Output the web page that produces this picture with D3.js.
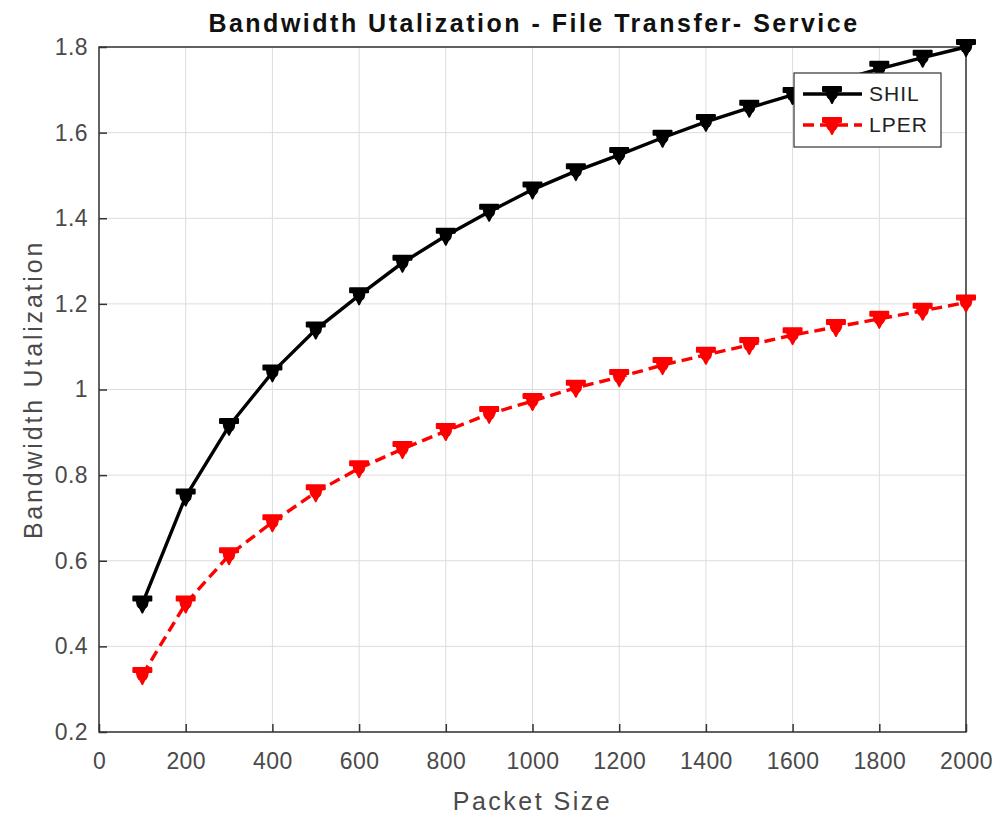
<!DOCTYPE html>
<html>
<head>
<meta charset="utf-8">
<script src="https://cdn.jsdelivr.net/npm/d3@7"></script>
<style>
  html, body { margin: 0; padding: 0; background: #fff; }
  svg { display: block; }
  text { font-family: "Liberation Sans", Arial, Helvetica, sans-serif; }
</style>
</head>
<body>
<svg id="chart" width="1000" height="818"></svg>
<script>
// Packet sizes (x) and bandwidth utilization per scheme
const packetSizes = [100, 200, 300, 400, 500, 600, 700, 800, 900, 1000,
                     1100, 1200, 1300, 1400, 1500, 1600, 1700, 1800, 1900, 2000];
const shil = [0.50, 0.75, 0.915, 1.04, 1.14, 1.22, 1.296, 1.359, 1.415, 1.467,
              1.51, 1.548, 1.588, 1.625, 1.658, 1.688, 1.72, 1.749, 1.775, 1.80];
const lper = [0.333, 0.50, 0.613, 0.69, 0.76, 0.816, 0.861, 0.903, 0.943, 0.973,
              1.004, 1.029, 1.057, 1.081, 1.104, 1.127, 1.146, 1.165, 1.184, 1.203];
const xTicks = [0, 200, 400, 600, 800, 1000, 1200, 1400, 1600, 1800, 2000];
const yTicks = [0.2, 0.4, 0.6, 0.8, 1.0, 1.2, 1.4, 1.6, 1.8];
const seriesNames = ["SHIL", "LPER"];

const svg = d3.select("#chart");
const margin = { left: 99, right: 34, top: 47, bottom: 86 };
const W = 1000, H = 818;
const x = d3.scaleLinear().domain([0, 2000]).range([margin.left, W - margin.right]);
const y = d3.scaleLinear().domain([0.2, 1.8]).range([H - margin.bottom, margin.top]);

const axisColor = "#333";
const tickColor = "#4a4a4a";

// grid
const grid = svg.append("g");
grid.selectAll("line.vx").data(xTicks).join("line")
  .attr("x1", d => x(d)).attr("x2", d => x(d))
  .attr("y1", y(0.2)).attr("y2", y(1.8))
  .attr("stroke", "#dcdcdc").attr("stroke-width", 1);
grid.selectAll("line.hy").data(yTicks).join("line")
  .attr("y1", d => y(d)).attr("y2", d => y(d))
  .attr("x1", x(0)).attr("x2", x(2000))
  .attr("stroke", "#dcdcdc").attr("stroke-width", 1);

// axes
const xAxis = d3.axisBottom(x).tickValues(xTicks).tickSize(-8).tickPadding(24)
  .tickFormat(d3.format("d"));
const yAxis = d3.axisLeft(y).tickValues(yTicks).tickSize(-8).tickPadding(11)
  .tickFormat(d => d === 1 ? "1" : d3.format(".1f")(d));

const gx = svg.append("g").attr("transform", `translate(0,${y(0.2)})`).call(xAxis);
const gy = svg.append("g").attr("transform", `translate(${x(0)},0)`).call(yAxis);
[gx, gy].forEach(g => {
  g.select(".domain").remove();
  g.selectAll(".tick line").attr("stroke", axisColor).attr("stroke-width", 1.5);
  g.selectAll(".tick text").attr("fill", tickColor)
    .style("font-size", "23px").style("letter-spacing", "0.4px");
});
gx.selectAll(".tick text").attr("dy", "0.55em");

// box
svg.append("rect")
  .attr("x", x(0)).attr("y", y(1.8))
  .attr("width", x(2000) - x(0)).attr("height", y(0.2) - y(1.8))
  .attr("fill", "none").attr("stroke", axisColor).attr("stroke-width", 1.5);

// marker: downward triangle topped with a bar
function markerPath(cx, cy) {
  return `M${cx - 9},${cy - 7} L${cx + 9},${cy - 7} L${cx + 9},${cy - 3} L${cx + 6},${cy - 3}
          L${cx},${cy + 9} L${cx - 6},${cy - 3} L${cx - 9},${cy - 3} Z`;
}

function drawSeries(values, color, dash) {
  const pts = packetSizes.map((p, i) => [p, values[i]]);
  const line = d3.line().x(d => x(d[0])).y(d => y(d[1]));
  svg.append("path").datum(pts)
    .attr("d", line)
    .attr("fill", "none").attr("stroke", color).attr("stroke-width", 3.4)
    .attr("stroke-dasharray", dash);
  svg.append("g").selectAll("path").data(pts).join("path")
    .attr("d", d => markerPath(x(d[0]), y(d[1])))
    .attr("fill", color).attr("stroke", color).attr("stroke-width", 2)
    .attr("stroke-linejoin", "round");
  svg.append("g").selectAll("circle").data(pts).join("circle")
    .attr("cx", d => x(d[0])).attr("cy", d => y(d[1])).attr("r", 6)
    .attr("fill", color);
}

drawSeries(shil, "#000", null);
drawSeries(lper, "#f00", "11,6");

// title
svg.append("text")
  .attr("x", 534).attr("y", 32)
  .attr("text-anchor", "middle")
  .style("font-size", "25px").style("font-weight", "bold")
  .style("letter-spacing", "2.5px")
  .attr("fill", "#111")
  .text("Bandwidth Utalization - File Transfer- Service");

// axis labels
svg.append("text")
  .attr("x", x(1000)).attr("y", 810)
  .attr("text-anchor", "middle")
  .style("font-size", "25px").style("letter-spacing", "2.5px")
  .attr("fill", tickColor)
  .text("Packet Size");
svg.append("text")
  .attr("transform", `translate(42,${(y(0.2) + y(1.8)) / 2}) rotate(-90)`)
  .attr("text-anchor", "middle")
  .style("font-size", "25px").style("letter-spacing", "2.8px")
  .attr("fill", tickColor)
  .text("Bandwidth Utalization");

// legend
const lg = svg.append("g");
lg.append("rect")
  .attr("x", 794).attr("y", 73).attr("width", 147).attr("height", 74)
  .attr("fill", "#fff").attr("stroke", axisColor).attr("stroke-width", 1.2);
const legendItems = [
  { name: seriesNames[0], color: "#000", dash: null, cy: 94 },
  { name: seriesNames[1], color: "#f00", dash: "11,6", cy: 125 }
];
legendItems.forEach(it => {
  lg.append("line")
    .attr("x1", 803).attr("x2", 862).attr("y1", it.cy).attr("y2", it.cy)
    .attr("stroke", it.color).attr("stroke-width", 3.4)
    .attr("stroke-dasharray", it.dash);
  lg.append("path").attr("d", markerPath(832, it.cy))
    .attr("fill", it.color).attr("stroke", it.color).attr("stroke-width", 2)
    .attr("stroke-linejoin", "round");
  lg.append("circle").attr("cx", 832).attr("cy", it.cy).attr("r", 6).attr("fill", it.color);
  lg.append("text")
    .attr("x", 869).attr("y", it.cy + 7)
    .style("font-size", "21px").style("letter-spacing", "1px")
    .attr("fill", "#222")
    .text(it.name);
});
</script>
</body>
</html>
